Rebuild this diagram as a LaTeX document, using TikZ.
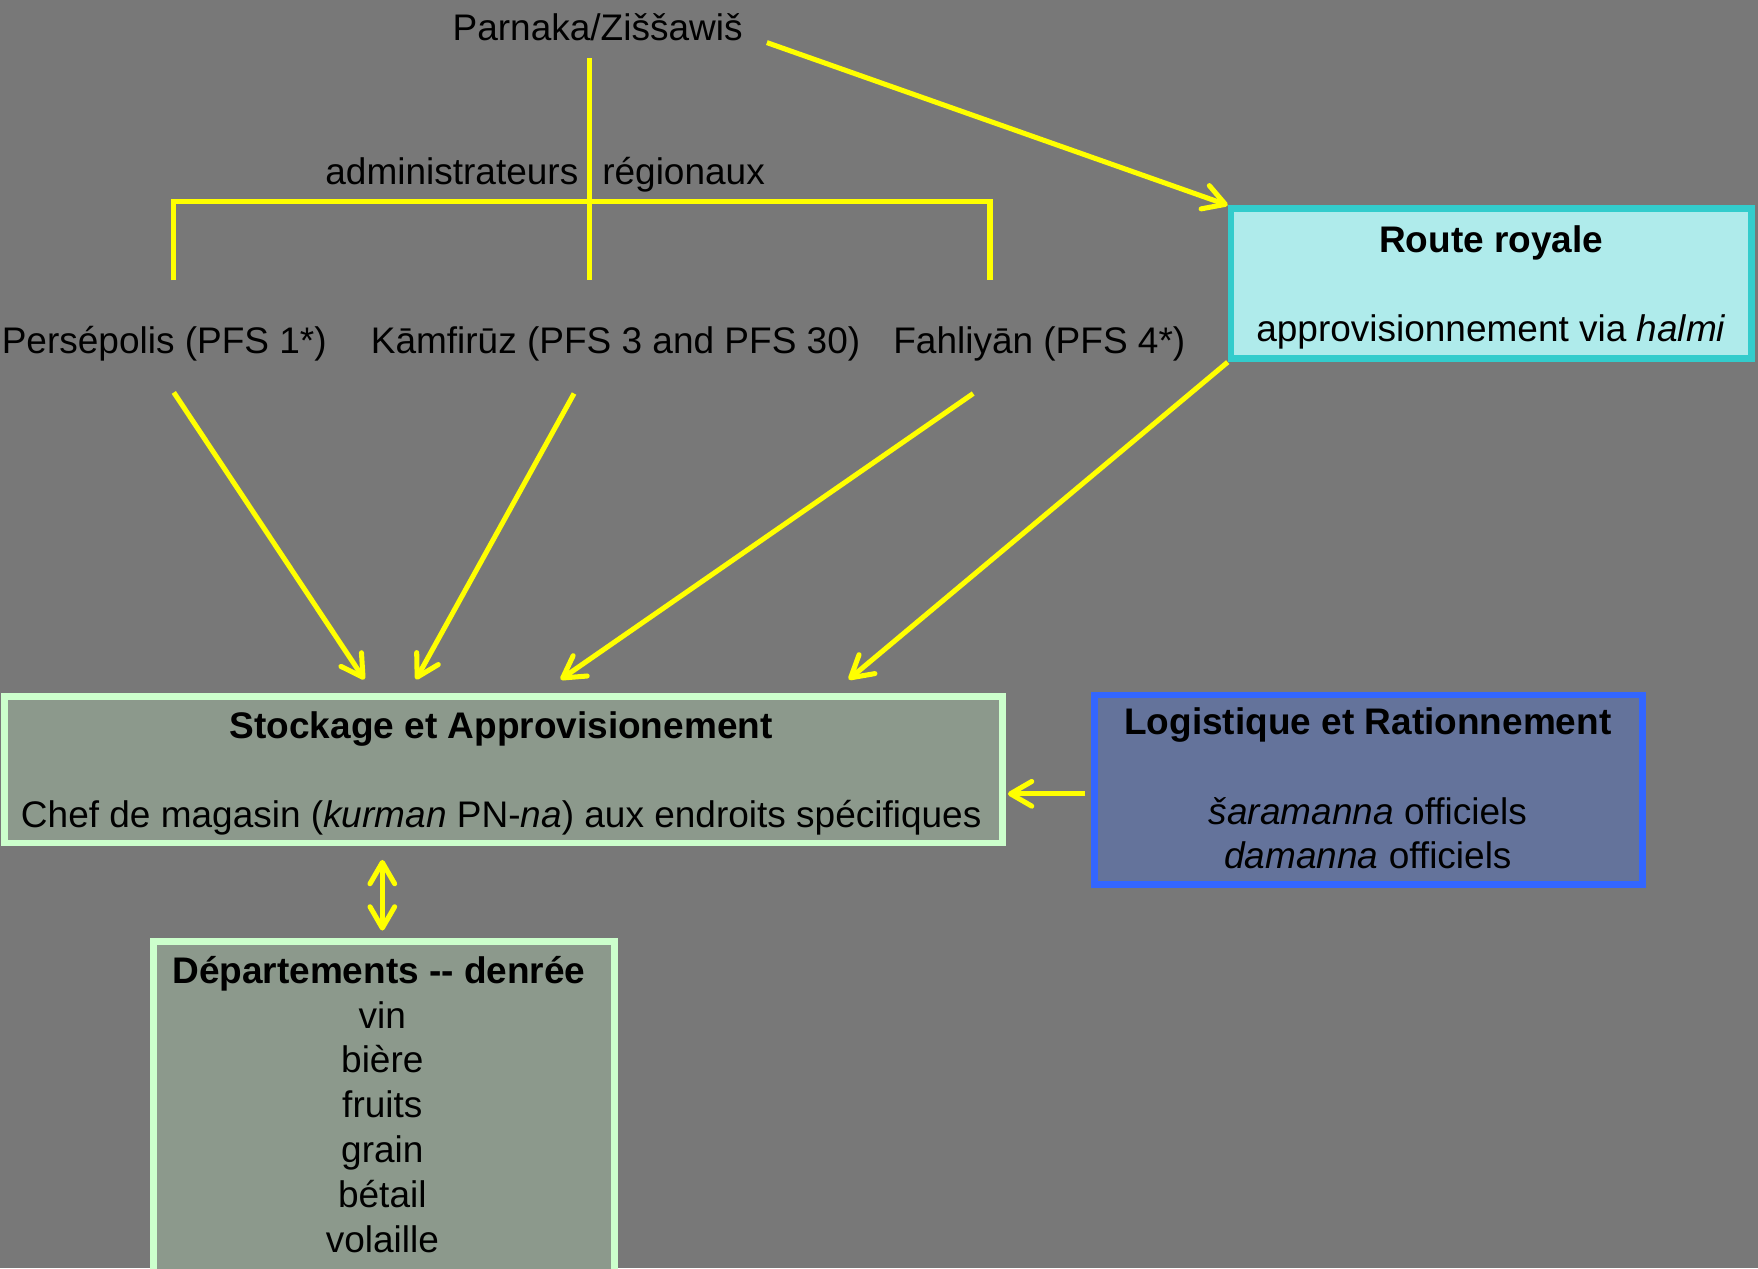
\documentclass[tikz,border=0pt]{standalone}
\usepackage{fontspec}
\setmainfont{Liberation Sans}
\usetikzlibrary{arrows.meta,calc}
\definecolor{bg}{RGB}{120,120,120}
\definecolor{yel}{RGB}{255,255,0}
\definecolor{routeB}{RGB}{51,204,204}
\definecolor{routeF}{RGB}{175,235,235}
\definecolor{greenB}{RGB}{204,255,204}
\definecolor{greenF}{RGB}{140,153,140}
\definecolor{logiB}{RGB}{51,102,255}
\definecolor{logiF}{RGB}{100,115,155}
\begin{document}
\begin{tikzpicture}[x=1pt,y=-1pt,
  font=\fontsize{33}{40}\selectfont,
  txt/.style={inner sep=0pt, anchor=base},
  link/.style={draw=yel, line width=4.5pt},
  barb/.style={Straight Barb[length=19pt,width=22pt,round]},
  arr/.style={link, -{Straight Barb[length=19pt,width=22pt,round]}},
  dbl/.style={link, {Straight Barb[length=19pt,width=22pt,round]}-{Straight Barb[length=19pt,width=22pt,round]}},
  box/.style={rectangle, line width=6pt, inner sep=0pt}]

\useasboundingbox[fill=bg] (0,0) rectangle (1568,1131);

% boxes
\node[box, draw=routeB, fill=routeF, minimum width=464pt, minimum height=134pt] (route) at (1330,253) {};
\node[box, draw=greenB, fill=greenF, minimum width=890pt, minimum height=131pt] (stock) at (449,686.5) {};
\node[box, draw=logiB, fill=logiF, minimum width=489pt, minimum height=169pt] (logi) at (1220.5,704.5) {};
\node[box, draw=greenB, fill=greenF, minimum width=411pt, minimum height=310pt] (dept) at (342.5,995) {};

% top of the hierarchy
\node[txt] (parnaka) at (533,36) {Parnaka/Ziššawiš};
\node[txt, anchor=base east] (adm1) at (516,165) {administrateurs};
\node[txt, anchor=base west] (adm2) at (537,165) {régionaux};

% regional centres
\node[txt] (pers) at (146.5,315) {Persépolis (PFS 1*)};
\node[txt] (kamf) at (549,315) {Kāmfirūz (PFS 3 and PFS 30)};
\node[txt] (fahl) at (927,315) {Fahliyān (PFS 4*)};

% box texts
\node[txt] (routeT) at (1330,225) {\textbf{Route royale}};
\node[txt] (routeS) at (1330,305) {approvisionnement via \textit{halmi}};
\node[txt] (stockT) at (447,659) {\textbf{Stockage et Approvisionement}};
\node[txt] (stockS) at (447,738) {Chef de magasin (\textit{kurman} PN-\textit{na}) aux endroits spécifiques};
\node[txt] (logiT) at (1220,655) {\textbf{Logistique et Rationnement}};
\node[txt] (logiA) at (1220,735) {\textit{šaramanna} officiels};
\node[txt] (logiB) at (1220,775) {\textit{damanna} officiels};
\node[txt] (deptT) at (338,877) {\textbf{Départements -{}- denrée}};
\node[txt] (d1) at (341,917) {vin};
\node[txt] (d2) at (341,957) {bière};
\node[txt] (d3) at (341,997) {fruits};
\node[txt] (d4) at (341,1037) {grain};
\node[txt] (d5) at (341,1077) {bétail};
\node[txt] (d6) at (341,1117) {volaille};

% bracket under Parnaka
\coordinate (bTop) at (526,52);
\coordinate (bMid) at (526,250);
\coordinate (bL) at (155,250);
\coordinate (bR) at (883,250);
\draw[link] (bL) -- (155,180) -- (883,180) -- (bR);
\draw[link] (bTop) -- (bMid);

% arrow start and end points
\coordinate (pStart) at (684,38);
\coordinate (persS) at (155,350);
\coordinate (persE) at (325,606);
\coordinate (kamfS) at (512,351);
\coordinate (kamfE) at (371,606);
\coordinate (fahlS) at (868,351);
\coordinate (fahlE) at (500,606);
\coordinate (routeE) at (757,606);

\draw[arr] (pStart) -- (route.north west);
\draw[arr] (persS) -- (persE);
\draw[arr] (kamfS) -- (kamfE);
\draw[arr] (fahlS) -- (fahlE);
\draw[arr] (route.south west) -- (routeE);
\draw[arr] ($(logi.west)+(-5,3.5)$) -- ($(stock.east)+(2,21.5)$);
\draw[dbl] ($(stock.south -| dept.north)+(-1.5,12)$) -- ($(dept.north)+(-1.5,-7)$);
\end{tikzpicture}
\end{document}
